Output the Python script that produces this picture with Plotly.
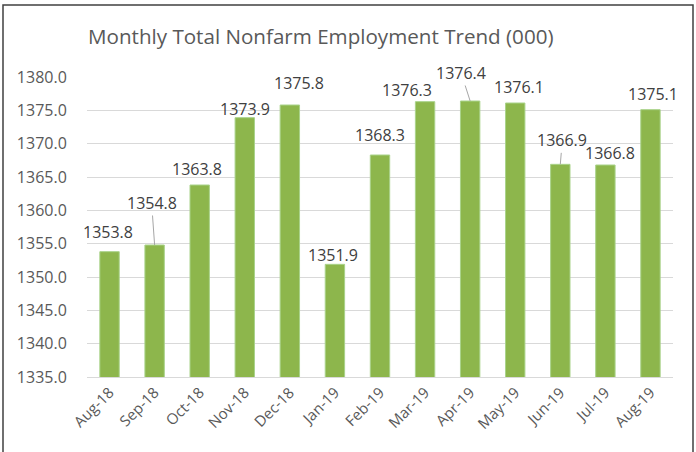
import plotly.graph_objects as go

months = ["Aug-18", "Sep-18", "Oct-18", "Nov-18", "Dec-18", "Jan-19", "Feb-19",
          "Mar-19", "Apr-19", "May-19", "Jun-19", "Jul-19", "Aug-19"]
employment = [1353.8, 1354.8, 1363.8, 1373.9, 1375.8, 1351.9, 1368.3,
              1376.3, 1376.4, 1376.1, 1366.9, 1366.8, 1375.1]
y_ticks = [1335, 1340, 1345, 1350, 1355, 1360, 1365, 1370, 1375, 1380]

# label placement offsets (pixels) relative to bar top, and leader-line flags
label_dx = [-2, -3, -3, 0, 9, -2, 0, -18, -9, 4, 2, 5, 3]
label_dy = [-20, -42, -16, -9, -22, -9, -20, -12, -28, -16, -24, -12, -16]
leader = [False, True, False, False, False, False, False, False, True, False, True, False, False]

FONT = "Open Sans"
W, H = 696, 452
L, R, T, B = 87, 23, 77, 75

fig = go.Figure()
fig.add_trace(go.Bar(
    x=months, y=employment,
    marker=dict(color="#8db64c", line=dict(color="#a9d38a", width=1)),
    hoverinfo="x+y",
))

for m, v, dx, dy, ld in zip(months, employment, label_dx, label_dy, leader):
    fig.add_annotation(
        x=m, y=v, text=f"{v:.1f}",
        showarrow=True, ax=dx, ay=dy, axref="pixel", ayref="pixel",
        arrowhead=0, arrowwidth=1, standoff=0,
        arrowcolor="#a6a6a6" if ld else "rgba(0,0,0,0)",
        font=dict(family=FONT, size=16, color="#404040"),
        xanchor="center", yanchor="middle",
    )

pw = W - L - R
ph = H - T - B
# outer chart border
fig.add_shape(type="rect", xref="paper", yref="paper",
              x0=(3 - L) / pw, x1=(693 - L) / pw,
              y0=(H - B - 456) / ph, y1=(H - B - 5) / ph,
              line=dict(color="#404040", width=1.5), fillcolor="rgba(0,0,0,0)", layer="above")

fig.update_layout(
    width=W, height=H,
    margin=dict(l=L, r=R, t=T, b=B),
    paper_bgcolor="white", plot_bgcolor="white",
    bargap=0.57,
    showlegend=False,
    title=dict(text="Monthly Total Nonfarm Employment Trend (000)",
               x=88 / W, xanchor="left", xref="container",
               y=1 - 37 / H, yanchor="middle", yref="container",
               font=dict(family=FONT, size=20.6, color="#595959")),
    font=dict(family=FONT, color="#595959"),
)
fig.update_yaxes(range=[1335, 1380], autorange=False, tickvals=y_ticks, tickformat=".1f",
                 showgrid=True, gridcolor="#d9d9d9", gridwidth=1,
                 zeroline=False, showline=False,
                 ticks="outside", ticklen=16, tickcolor="rgba(0,0,0,0)",
                 tickfont=dict(family=FONT, size=16, color="#595959"))
fig.update_xaxes(range=[-0.5, len(months) - 0.5], autorange=False,
                 showline=True, linecolor="#d9d9d9", linewidth=1,
                 tickangle=-45, ticks="",
                 tickfont=dict(family=FONT, size=15, color="#595959"))

fig.write_html("out.html", config={"displayModeBar": False},
               post_script="document.body.style.margin='0';document.body.style.overflow='hidden';")
